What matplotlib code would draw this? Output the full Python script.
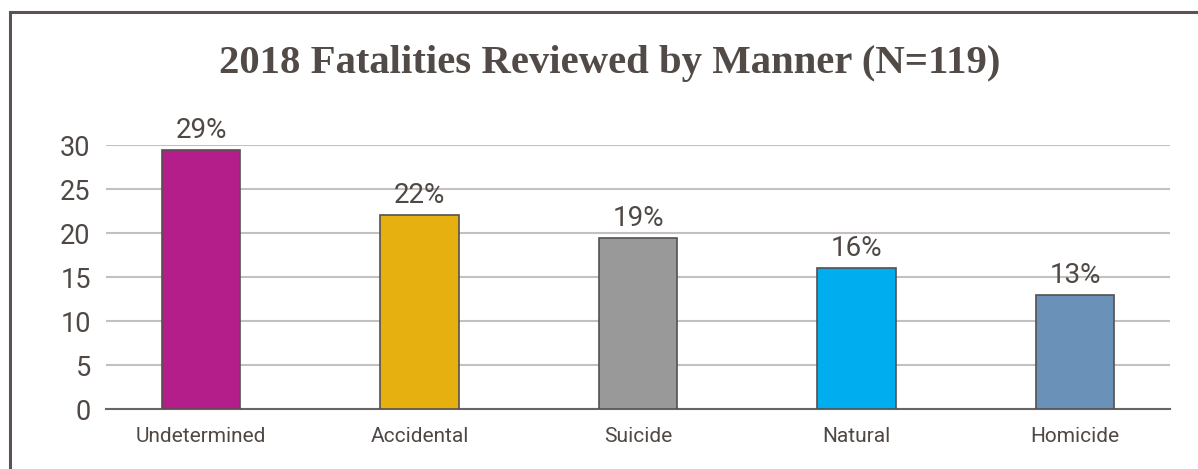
import matplotlib
matplotlib.use('Agg')
import matplotlib.pyplot as plt
from matplotlib.lines import Line2D

# manner of death, share of reviewed fatalities (%)
manners = ['Undetermined', 'Accidental', 'Suicide', 'Natural', 'Homicide']
shares = [29.4, 22.0, 19.4, 16.0, 12.9]
colors = ['#b41e8a', '#e6b010', '#999999', '#00adee', '#6a91b8']
yticks = [0, 5, 10, 15, 20, 25, 30]

text_col = '#4f4845'

fig = plt.figure(figsize=(11.98, 4.69), dpi=100)
ax = fig.add_axes([106 / 1198, 1 - 409 / 469, (1170 - 106) / 1198, (409 - 145) / 469])

x = list(range(len(manners)))
bars = ax.bar(x, shares, width=0.36, color=colors, edgecolor='#555050', linewidth=1.2, zorder=3)

for b, v in zip(bars, shares):
    ax.text(b.get_x() + b.get_width() / 2, v + 0.75, f'{round(v)}%', ha='center', va='bottom',
            fontsize=20, family='Roboto', color=text_col, clip_on=False, zorder=4)

ax.set_xlim(-0.435, 4.435)
ax.set_ylim(0, 30)
ax.set_yticks(yticks)
ax.set_xticks(x)
ax.set_xticklabels(manners, fontsize=15, family='Roboto', color=text_col)
ax.set_yticklabels([str(t) for t in yticks], fontsize=19.5, family='Roboto', color=text_col)
ax.tick_params(axis='both', length=0)
ax.tick_params(axis='y', pad=11)
ax.tick_params(axis='x', pad=13)

ax.grid(axis='y', color='#c4c0c0', linewidth=1.5, zorder=0)
ax.set_axisbelow(True)
for s in ['top', 'right', 'left']:
    ax.spines[s].set_visible(False)
ax.spines['bottom'].set_color('#6b6464')
ax.spines['bottom'].set_linewidth(1.5)
ax.spines['bottom'].set_zorder(2)

fig.text(610 / 1198, 1 - 64 / 469, '2018 Fatalities Reviewed by Manner (N=119)', ha='center', va='center',
         fontsize=29.3, fontweight='bold', family='Liberation Serif', color='#514a46')

# frame around the chart
bx = 9.5 / 1198
by = 1 - 12.5 / 469
fig.add_artist(Line2D([bx, bx], [0, by], color='#5a5350', linewidth=2.2, transform=fig.transFigure))
fig.add_artist(Line2D([bx, 1], [by, by], color='#5a5350', linewidth=2.2, transform=fig.transFigure))

fig.savefig('out.png', dpi=100)
